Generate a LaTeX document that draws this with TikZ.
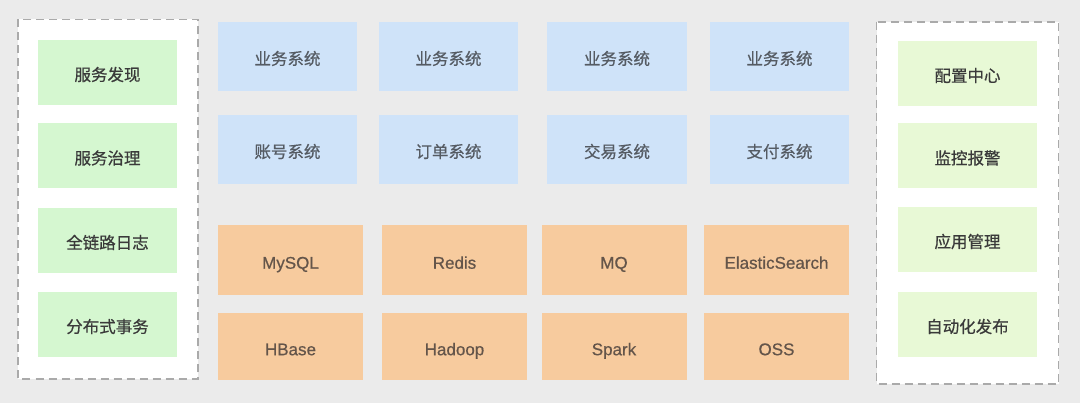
\documentclass[tikz,border=0pt]{standalone}
\usepackage{fontspec}
\newfontfamily\cjk[FakeBold=0.6]{Noto Sans CJK SC}
\newfontfamily\lat[FakeBold=0.6]{Liberation Sans}
\definecolor{bgc}{HTML}{EBEBEB}
\definecolor{bluec}{HTML}{CFE3F9}
\definecolor{orangec}{HTML}{F7CB9E}
\definecolor{greenL}{HTML}{D5F7D0}
\definecolor{greenR}{HTML}{E8F9D6}
\definecolor{dashc}{HTML}{AAAAAA}
\definecolor{txtg}{HTML}{3A3A3A}
\definecolor{txtb}{HTML}{555B63}
\definecolor{txto}{HTML}{64554A}
\tikzset{
  boxbase/.style={draw=none, inner sep=0pt, anchor=center, text depth=0pt},
  cjkbox/.style={boxbase, font=\cjk\fontsize{16.5}{18}\selectfont, text height=16.6pt},
  latbox/.style={boxbase, font=\lat\fontsize{17}{19}\selectfont, text height=17.5pt, text=txto},
  bluebox/.style={cjkbox, fill=bluec, text=txtb, minimum width=139.5pt, minimum height=69pt},
  orangebox/.style={latbox, fill=orangec, minimum width=145pt, minimum height=69pt},
  greenlbox/.style={cjkbox, fill=greenL, text=txtg, minimum width=139pt, minimum height=65pt},
  greenrbox/.style={cjkbox, fill=greenR, text=txtg, minimum width=139pt, minimum height=65pt},
  panel/.style={draw=dashc, fill=white, line width=1.3pt, dash pattern=on 8pt off 5pt}
}
\begin{document}
\begin{tikzpicture}[x=1pt,y=-1pt]
\fill[bgc] (0,0) rectangle (1080,403);
\useasboundingbox (0,0) rectangle (1080,403);
% panels
\draw[panel] (18,19.5) rectangle (198,379);
\draw[panel] (876.5,22) rectangle (1058.5,384);
% left green
\node[greenlbox] (l1) at (107.5,72.5) {服务发现};
\node[greenlbox] (l2) at (107.5,156) {服务治理};
\node[greenlbox] (l3) at (107.5,240.5) {全链路日志};
\node[greenlbox] (l4) at (107.5,324.5) {分布式事务};
% right green
\node[greenrbox] (r1) at (967.5,73.5) {配置中心};
\node[greenrbox] (r2) at (967.5,156) {监控报警};
\node[greenrbox] (r3) at (967.5,239.5) {应用管理};
\node[greenrbox] (r4) at (967.5,324.5) {自动化发布};
% blue row 1
\node[bluebox] (b11) at (287.5,56.5) {业务系统};
\node[bluebox] (b12) at (448.5,56.5) {业务系统};
\node[bluebox] (b13) at (617,56.5) {业务系统};
\node[bluebox] (b14) at (779.5,56.5) {业务系统};
% blue row 2
\node[bluebox] (b21) at (287.5,149.5) {账号系统};
\node[bluebox] (b22) at (448.5,149.5) {订单系统};
\node[bluebox] (b23) at (617,149.5) {交易系统};
\node[bluebox] (b24) at (779.5,149.5) {支付系统};
% orange row 1
\node[orangebox, minimum height=70pt] (o11) at (290.5,260) {MySQL};
\node[orangebox, minimum height=70pt] (o12) at (454.5,260) {Redis};
\node[orangebox, minimum height=70pt] (o13) at (614,260) {MQ};
\node[orangebox, minimum height=70pt] (o14) at (776.5,260) {ElasticSearch};
% orange row 2
\node[orangebox, minimum height=67pt] (o21) at (290.5,346.5) {HBase};
\node[orangebox, minimum height=67pt] (o22) at (454.5,346.5) {Hadoop};
\node[orangebox, minimum height=67pt] (o23) at (614,346.5) {Spark};
\node[orangebox, minimum height=67pt] (o24) at (776.5,346.5) {OSS};
\end{tikzpicture}
\end{document}
